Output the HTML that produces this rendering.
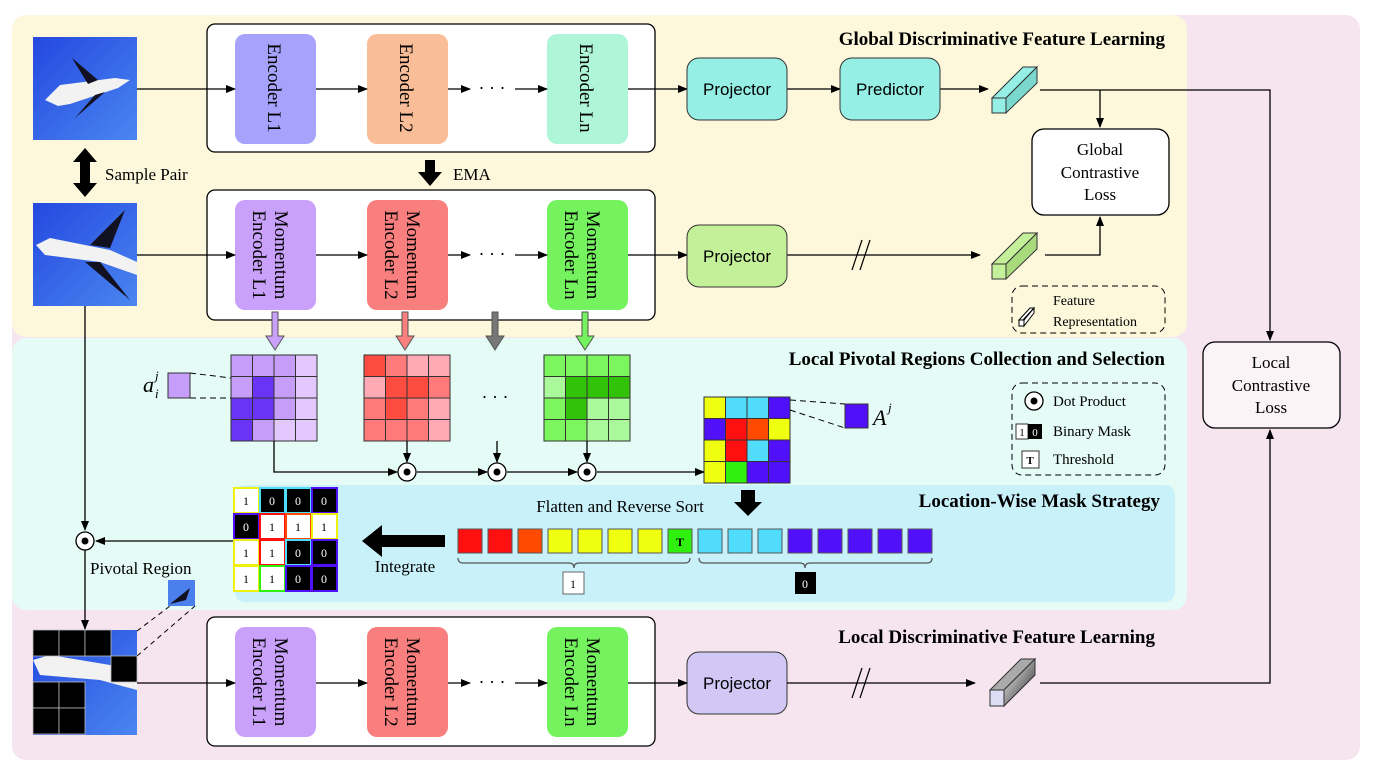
<!DOCTYPE html>
<html><head><meta charset="utf-8"><style>
html,body{margin:0;padding:0;background:#fff}
svg{display:block;font-family:"Liberation Serif",serif}
</style></head><body>
<svg width="1379" height="771" viewBox="0 0 1379 771" xmlns="http://www.w3.org/2000/svg">
<defs>
<marker id="ah" markerWidth="10" markerHeight="8" refX="9" refY="4" orient="auto" markerUnits="userSpaceOnUse"><path d="M0,0 L10,4 L0,8 Z" fill="#000"/></marker>
<linearGradient id="sky" x1="0" y1="0" x2="1" y2="1"><stop offset="0" stop-color="#2448e0"/><stop offset="1" stop-color="#4a86f0"/></linearGradient>
<linearGradient id="gbar" x1="0" y1="0" x2="1" y2="1"><stop offset="0" stop-color="#fff"/><stop offset="1" stop-color="#222"/></linearGradient>
</defs>
<!-- panels -->
<rect x="12" y="15" width="1348" height="745" rx="14" fill="#f6e5ee"/>
<rect x="12" y="15" width="1175" height="322" rx="14" fill="#fdf7dc"/>
<rect x="12" y="338" width="1175" height="272" rx="14" fill="#e4fbf6"/>
<rect x="235" y="485" width="940" height="117" rx="10" fill="#c9f1fa"/>

<!-- titles -->
<g font-weight="bold" font-size="19" text-anchor="end">
<text x="1165" y="45">Global Discriminative Feature Learning</text>
<text x="1165" y="365">Local Pivotal Regions Collection and Selection</text>
<text x="1160" y="507">Location-Wise Mask Strategy</text>
<text x="1155" y="643">Local Discriminative Feature Learning</text>
</g>

<!-- images -->
<g>
<rect x="33" y="37" width="104" height="103" fill="url(#sky)"/>
<path d="M45,100 L60,85 L115,78 L130,80 L118,88 L70,104 L58,106 Z" fill="#f2f2f2"/>
<path d="M72,58 L98,80 L88,84 Z M75,118 L95,95 L105,92 Z" fill="#112"/>
<rect x="33" y="203" width="104" height="103" fill="url(#sky)"/>
<path d="M36,245 L50,238 L110,250 L137,262 L137,275 L100,262 L45,255 Z" fill="#f2f2f2"/>
<path d="M90,245 L125,210 L110,248 Z M85,262 L130,300 L100,262 Z" fill="#112"/>
</g>
<!-- sample pair -->
<path d="M85,148 L97,162 L90,162 L90,183 L97,183 L85,197 L73,183 L80,183 L80,162 L73,162 Z" fill="#000"/>
<text x="105" y="180" font-size="17">Sample Pair</text>

<!-- top encoder box -->
<rect x="207" y="24" width="448" height="128" rx="8" fill="#fff" stroke="#000" stroke-width="1.3"/>
<rect x="235" y="34" width="81" height="110" rx="10" fill="#a7a3fc"/>
<rect x="367" y="34" width="81" height="110" rx="10" fill="#f9bd97"/>
<rect x="547" y="34" width="81" height="110" rx="10" fill="#aff5d8"/>
<g font-size="19">
<text transform="translate(268,88) rotate(90)" text-anchor="middle">Encoder  L1</text>
<text transform="translate(400,88) rotate(90)" text-anchor="middle">Encoder  L2</text>
<text transform="translate(580,88) rotate(90)" text-anchor="middle">Encoder  Ln</text>
</g>
<g stroke="#000" stroke-width="1.3" fill="none" marker-end="url(#ah)">
<line x1="137" y1="89" x2="235" y2="89"/>
<line x1="316" y1="89" x2="367" y2="89"/>
<line x1="448" y1="89" x2="470" y2="89"/>
<line x1="515" y1="89" x2="547" y2="89"/>
<line x1="628" y1="89" x2="687" y2="89"/>
<line x1="787" y1="89" x2="840" y2="89"/>
<line x1="940" y1="89" x2="988" y2="89"/>
</g>
<text x="492" y="94" font-size="18" text-anchor="middle">· · ·</text>

<!-- EMA -->
<path d="M425,160 L435,160 L435,172 L442,172 L430,186 L418,172 L425,172 Z" fill="#000"/>
<text x="453" y="180" font-size="17">EMA</text>

<!-- momentum box -->
<rect x="207" y="190" width="448" height="130" rx="8" fill="#fff" stroke="#000" stroke-width="1.3"/>
<rect x="235" y="200" width="81" height="110" rx="10" fill="#c9a0fa"/>
<rect x="367" y="200" width="81" height="110" rx="10" fill="#f97f7e"/>
<rect x="547" y="200" width="81" height="110" rx="10" fill="#74f35e"/>
<g font-size="19" text-anchor="middle">
<text transform="translate(275,255) rotate(90)" y="0">Momentum</text>
<text transform="translate(275,255) rotate(90)" y="22">Encoder  L1</text>
<text transform="translate(407,255) rotate(90)" y="0">Momentum</text>
<text transform="translate(407,255) rotate(90)" y="22">Encoder  L2</text>
<text transform="translate(587,255) rotate(90)" y="0">Momentum</text>
<text transform="translate(587,255) rotate(90)" y="22">Encoder  Ln</text>
</g>
<g stroke="#000" stroke-width="1.3" fill="none" marker-end="url(#ah)">
<line x1="137" y1="255" x2="235" y2="255"/>
<line x1="316" y1="255" x2="367" y2="255"/>
<line x1="448" y1="255" x2="470" y2="255"/>
<line x1="515" y1="255" x2="547" y2="255"/>
<line x1="628" y1="255" x2="687" y2="255"/>
<line x1="787" y1="255" x2="980" y2="255"/>
</g>
<text x="492" y="260" font-size="18" text-anchor="middle">· · ·</text>
<g stroke="#000" stroke-width="1.2"><line x1="852" y1="270" x2="862" y2="240"/><line x1="860" y1="270" x2="870" y2="240"/></g>

<!-- projectors -->
<rect x="687" y="58" width="100" height="62" rx="12" fill="#95efe4" stroke="#333"/>
<rect x="840" y="58" width="100" height="62" rx="12" fill="#95efe4" stroke="#333"/>
<rect x="687" y="225" width="100" height="62" rx="12" fill="#c5f09a" stroke="#333"/>
<rect x="687" y="652" width="100" height="62" rx="12" fill="#d2c8f6" stroke="#333"/>
<g font-size="17" font-family="Liberation Sans,sans-serif" text-anchor="middle">
<text x="737" y="95">Projector</text><text x="890" y="95">Predictor</text>
<text x="737" y="262">Projector</text><text x="737" y="689">Projector</text>
</g>

<!-- feature bars -->
<g stroke="#333" stroke-width="1">
<polygon points="992,98 1023,67 1037,67 1006,98" fill="#95efe4"/><polygon points="1006,98 1037,67 1037,83 1006,113" fill="#7ad8cf"/><rect x="992" y="98" width="14" height="15" fill="#95efe4"/>
<polygon points="992,264 1023,233 1037,233 1006,264" fill="#c5f09a"/><polygon points="1006,264 1037,233 1037,249 1006,279" fill="#a9da7d"/><rect x="992" y="264" width="14" height="15" fill="#c5f09a"/>
<polygon points="990,690 1021,659 1035,659 1004,690" fill="#aaa"/><polygon points="1004,690 1035,659 1035,675 1004,706" fill="url(#gbar)"/><rect x="990" y="690" width="14" height="16" fill="#ddddf5"/>
</g>

<!-- global loss -->
<rect x="1032" y="129" width="137" height="86" rx="12" fill="#fff" stroke="#000" stroke-width="1.3"/>
<g font-size="17" text-anchor="middle"><text x="1100" y="155">Global</text><text x="1100" y="178">Contrastive</text><text x="1100" y="200">Loss</text></g>
<rect x="1203" y="342" width="137" height="86" rx="12" fill="#fcf3f7" stroke="#000" stroke-width="1.3"/>
<g font-size="17" text-anchor="middle"><text x="1271" y="368">Local</text><text x="1271" y="391">Contrastive</text><text x="1271" y="413">Loss</text></g>
<g stroke="#000" stroke-width="1.3" fill="none">
<polyline points="1040,90 1270,90 1270,340" marker-end="url(#ah)"/>
<line x1="1100" y1="90" x2="1100" y2="127" marker-end="url(#ah)"/>
<polyline points="1045,255 1100,255 1100,217" marker-end="url(#ah)"/>
<polyline points="1040,683 1270,683 1270,430" marker-end="url(#ah)"/>
<line x1="787" y1="683" x2="975" y2="683" marker-end="url(#ah)"/>
</g>
<g stroke="#000" stroke-width="1.2"><line x1="852" y1="698" x2="862" y2="668"/><line x1="860" y1="698" x2="870" y2="668"/></g>

<!-- feature rep legend -->
<rect x="1012" y="286" width="153" height="47" rx="10" fill="none" stroke="#000" stroke-dasharray="6,4"/>
<polygon points="1019,320 1030,308 1034,308 1023,320" fill="#fff" stroke="#000"/><rect x="1019" y="320" width="5" height="6" fill="#fff" stroke="#000"/><polygon points="1024,320 1034,308 1034,313 1024,326" fill="#fff" stroke="#000"/>
<text x="1053" y="305" font-size="14">Feature</text><text x="1053" y="326" font-size="14">Representation</text>

<!-- hollow arrows down -->
<g stroke="#555" stroke-width="1">
<path d="M272,312 L278,312 L278,336 L284,336 L275,350 L266,336 L272,336 Z" fill="#c9a0fa"/>
<path d="M402,312 L408,312 L408,336 L414,336 L405,350 L396,336 L402,336 Z" fill="#f97f7e"/>
<path d="M492,312 L498,312 L498,336 L504,336 L495,350 L486,336 L492,336 Z" fill="#777"/>
<path d="M582,312 L588,312 L588,336 L594,336 L585,350 L576,336 L582,336 Z" fill="#74f35e"/>
</g>

<!-- grids -->
<g stroke="#333" stroke-width="1">
<!-- purple -->
<g transform="translate(231,355)">
<rect x="0" y="0" width="21.5" height="21.5" fill="#c69ef9"/><rect x="21.5" y="0" width="21.5" height="21.5" fill="#c69ef9"/><rect x="43" y="0" width="21.5" height="21.5" fill="#c69ef9"/><rect x="64.5" y="0" width="21.5" height="21.5" fill="#e2c8fc"/>
<rect x="0" y="21.5" width="21.5" height="21.5" fill="#c69ef9"/><rect x="21.5" y="21.5" width="21.5" height="21.5" fill="#6a33f5"/><rect x="43" y="21.5" width="21.5" height="21.5" fill="#c69ef9"/><rect x="64.5" y="21.5" width="21.5" height="21.5" fill="#e2c8fc"/>
<rect x="0" y="43" width="21.5" height="21.5" fill="#6a33f5"/><rect x="21.5" y="43" width="21.5" height="21.5" fill="#6a33f5"/><rect x="43" y="43" width="21.5" height="21.5" fill="#c69ef9"/><rect x="64.5" y="43" width="21.5" height="21.5" fill="#e2c8fc"/>
<rect x="0" y="64.5" width="21.5" height="21.5" fill="#6a33f5"/><rect x="21.5" y="64.5" width="21.5" height="21.5" fill="#c69ef9"/><rect x="43" y="64.5" width="21.5" height="21.5" fill="#e2c8fc"/><rect x="64.5" y="64.5" width="21.5" height="21.5" fill="#e2c8fc"/>
</g>
<!-- red -->
<g transform="translate(364,355)">
<rect x="0" y="0" width="21.5" height="21.5" fill="#ff4c40"/><rect x="21.5" y="0" width="21.5" height="21.5" fill="#ff7a7a"/><rect x="43" y="0" width="21.5" height="21.5" fill="#ffaab5"/><rect x="64.5" y="0" width="21.5" height="21.5" fill="#ffaab5"/>
<rect x="0" y="21.5" width="21.5" height="21.5" fill="#ffaab5"/><rect x="21.5" y="21.5" width="21.5" height="21.5" fill="#ff4c40"/><rect x="43" y="21.5" width="21.5" height="21.5" fill="#ff4c40"/><rect x="64.5" y="21.5" width="21.5" height="21.5" fill="#ff7a7a"/>
<rect x="0" y="43" width="21.5" height="21.5" fill="#ff7a7a"/><rect x="21.5" y="43" width="21.5" height="21.5" fill="#ff4c40"/><rect x="43" y="43" width="21.5" height="21.5" fill="#ff7a7a"/><rect x="64.5" y="43" width="21.5" height="21.5" fill="#ffaab5"/>
<rect x="0" y="64.5" width="21.5" height="21.5" fill="#ff7a7a"/><rect x="21.5" y="64.5" width="21.5" height="21.5" fill="#ff7a7a"/><rect x="43" y="64.5" width="21.5" height="21.5" fill="#ff7a7a"/><rect x="64.5" y="64.5" width="21.5" height="21.5" fill="#ffaab5"/>
</g>
<!-- green -->
<g transform="translate(544,355)">
<rect x="0" y="0" width="21.5" height="21.5" fill="#7cf55f"/><rect x="21.5" y="0" width="21.5" height="21.5" fill="#7cf55f"/><rect x="43" y="0" width="21.5" height="21.5" fill="#7cf55f"/><rect x="64.5" y="0" width="21.5" height="21.5" fill="#7cf55f"/>
<rect x="0" y="21.5" width="21.5" height="21.5" fill="#aaf99a"/><rect x="21.5" y="21.5" width="21.5" height="21.5" fill="#33c20a"/><rect x="43" y="21.5" width="21.5" height="21.5" fill="#33c20a"/><rect x="64.5" y="21.5" width="21.5" height="21.5" fill="#33c20a"/>
<rect x="0" y="43" width="21.5" height="21.5" fill="#7cf55f"/><rect x="21.5" y="43" width="21.5" height="21.5" fill="#33c20a"/><rect x="43" y="43" width="21.5" height="21.5" fill="#aaf99a"/><rect x="64.5" y="43" width="21.5" height="21.5" fill="#aaf99a"/>
<rect x="0" y="64.5" width="21.5" height="21.5" fill="#7cf55f"/><rect x="21.5" y="64.5" width="21.5" height="21.5" fill="#7cf55f"/><rect x="43" y="64.5" width="21.5" height="21.5" fill="#aaf99a"/><rect x="64.5" y="64.5" width="21.5" height="21.5" fill="#aaf99a"/>
</g>
<!-- combined -->
<g transform="translate(704,397)">
<rect x="0" y="0" width="21.5" height="21.5" fill="#f0ff10"/><rect x="21.5" y="0" width="21.5" height="21.5" fill="#50dcfa"/><rect x="43" y="0" width="21.5" height="21.5" fill="#50dcfa"/><rect x="64.5" y="0" width="21.5" height="21.5" fill="#5010fa"/>
<rect x="0" y="21.5" width="21.5" height="21.5" fill="#5010fa"/><rect x="21.5" y="21.5" width="21.5" height="21.5" fill="#ff1010"/><rect x="43" y="21.5" width="21.5" height="21.5" fill="#ff4a00"/><rect x="64.5" y="21.5" width="21.5" height="21.5" fill="#f0ff10"/>
<rect x="0" y="43" width="21.5" height="21.5" fill="#f0ff10"/><rect x="21.5" y="43" width="21.5" height="21.5" fill="#ff1010"/><rect x="43" y="43" width="21.5" height="21.5" fill="#50dcfa"/><rect x="64.5" y="43" width="21.5" height="21.5" fill="#5010fa"/>
<rect x="0" y="64.5" width="21.5" height="21.5" fill="#f0ff10"/><rect x="21.5" y="64.5" width="21.5" height="21.5" fill="#30f010"/><rect x="43" y="64.5" width="21.5" height="21.5" fill="#5010fa"/><rect x="64.5" y="64.5" width="21.5" height="21.5" fill="#5010fa"/>
</g>
<rect x="168" y="373" width="22" height="25" fill="#c69ef9"/>
<rect x="845" y="404" width="23" height="24" fill="#5010fa"/>
</g>
<text x="495" y="403" font-size="18" text-anchor="middle">· · ·</text>
<g stroke="#000" stroke-dasharray="6,4" fill="none">
<line x1="190" y1="373" x2="231" y2="378"/><line x1="190" y1="398" x2="231" y2="398"/>
<line x1="790" y1="400" x2="845" y2="404"/><line x1="790" y1="410" x2="845" y2="428"/>
</g>
<text x="143" y="392" font-size="22" font-style="italic">a</text>
<text x="155" y="380" font-size="13" font-style="italic">j</text>
<text x="155" y="398" font-size="13" font-style="italic">i</text>
<text x="873" y="425" font-size="22" font-style="italic">A</text>
<text x="888" y="412" font-size="13" font-style="italic">j</text>

<!-- dot product chain -->
<g stroke="#000" stroke-width="1.3" fill="none">
<polyline points="274,441 274,472 397,472" marker-end="url(#ah)"/>
<line x1="417" y1="472" x2="487" y2="472" marker-end="url(#ah)"/>
<line x1="507" y1="472" x2="577" y2="472" marker-end="url(#ah)"/>
<line x1="597" y1="472" x2="704" y2="472" marker-end="url(#ah)"/>
<line x1="407" y1="441" x2="407" y2="462" marker-end="url(#ah)"/>
<line x1="497" y1="441" x2="497" y2="462" marker-end="url(#ah)"/>
<line x1="587" y1="441" x2="587" y2="462" marker-end="url(#ah)"/>
</g>
<g stroke="#000" stroke-width="1.3" fill="#fff">
<circle cx="407" cy="472" r="9"/><circle cx="497" cy="472" r="9"/><circle cx="587" cy="472" r="9"/><circle cx="85" cy="541" r="9"/>
<circle cx="1034" cy="401" r="9"/>
</g>
<g fill="#000"><circle cx="407" cy="472" r="3.5"/><circle cx="497" cy="472" r="3.5"/><circle cx="587" cy="472" r="3.5"/><circle cx="85" cy="541" r="3.5"/><circle cx="1034" cy="401" r="3.5"/></g>

<!-- legend -->
<rect x="1012" y="383" width="153" height="92" rx="10" fill="none" stroke="#000" stroke-dasharray="6,4"/>
<g font-size="15"><text x="1053" y="406">Dot Product</text><text x="1053" y="436">Binary Mask</text><text x="1053" y="464">Threshold</text></g>
<rect x="1016" y="424" width="12" height="15" fill="#fff" stroke="#333"/><rect x="1028" y="424" width="14" height="15" fill="#000"/>
<text x="1022" y="436" font-size="11" text-anchor="middle">1</text><text x="1035" y="436" font-size="11" fill="#fff" text-anchor="middle">0</text>
<rect x="1022" y="451" width="17" height="17" fill="#fff" stroke="#333"/><text x="1030" y="464" font-size="11" font-weight="bold" text-anchor="middle">T</text>

<!-- flatten -->
<path d="M741,490 L755,490 L755,502 L762,502 L748,516 L734,502 L741,502 Z" fill="#000"/>
<text x="620" y="512" font-size="17" text-anchor="middle">Flatten and Reverse Sort</text>
<g stroke="#555" stroke-width="1">
<rect x="458" y="529" width="24" height="24" fill="#ff1010"/><rect x="488" y="529" width="24" height="24" fill="#ff1010"/><rect x="518" y="529" width="24" height="24" fill="#ff4a00"/>
<rect x="548" y="529" width="24" height="24" fill="#f0ff10"/><rect x="578" y="529" width="24" height="24" fill="#f0ff10"/><rect x="608" y="529" width="24" height="24" fill="#f0ff10"/><rect x="638" y="529" width="24" height="24" fill="#f0ff10"/>
<rect x="668" y="529" width="24" height="24" fill="#30f010"/>
<rect x="698" y="529" width="24" height="24" fill="#50dcfa"/><rect x="728" y="529" width="24" height="24" fill="#50dcfa"/><rect x="758" y="529" width="24" height="24" fill="#50dcfa"/>
<rect x="788" y="529" width="24" height="24" fill="#5010fa"/><rect x="818" y="529" width="24" height="24" fill="#5010fa"/><rect x="848" y="529" width="24" height="24" fill="#5010fa"/><rect x="878" y="529" width="24" height="24" fill="#5010fa"/><rect x="908" y="529" width="24" height="24" fill="#5010fa"/>
</g>
<text x="680" y="546" font-size="12" font-weight="bold" text-anchor="middle">T</text>
<g stroke="#555" fill="none" stroke-width="1.2">
<path d="M458,558 Q458,563 463,563 L569,563 Q574,563 574,568 Q574,563 579,563 L685,563 Q690,563 690,558"/>
<path d="M699,558 Q699,563 704,563 L800,563 Q805,563 805,568 Q805,563 810,563 L927,563 Q932,563 932,558"/>
</g>
<rect x="563" y="572" width="21" height="22" fill="#fff" stroke="#666"/><text x="573" y="588" font-size="12" text-anchor="middle">1</text>
<rect x="795" y="572" width="21" height="22" fill="#000"/><text x="805" y="588" font-size="12" fill="#fff" text-anchor="middle">0</text>

<!-- integrate -->
<path d="M445,535 L445,547 L382,547 L382,557 L362,541 L382,525 L382,535 Z" fill="#000"/>
<text x="405" y="572" font-size="17" text-anchor="middle">Integrate</text>

<!-- mask grid -->
<g font-size="12" text-anchor="middle" stroke-width="2">
<rect x="234" y="488" width="25" height="25" fill="#fff" stroke="#f0f010"/><rect x="260" y="488" width="25" height="25" fill="#000" stroke="#50dcfa"/><rect x="286" y="488" width="25" height="25" fill="#000" stroke="#50dcfa"/><rect x="312" y="488" width="25" height="25" fill="#000" stroke="#5010fa"/>
<rect x="234" y="514" width="25" height="25" fill="#000" stroke="#5010fa"/><rect x="260" y="514" width="25" height="25" fill="#fff" stroke="#ff1010"/><rect x="286" y="514" width="25" height="25" fill="#fff" stroke="#ff4a00"/><rect x="312" y="514" width="25" height="25" fill="#fff" stroke="#f0f010"/>
<rect x="234" y="540" width="25" height="25" fill="#fff" stroke="#f0f010"/><rect x="260" y="540" width="25" height="25" fill="#fff" stroke="#ff1010"/><rect x="286" y="540" width="25" height="25" fill="#000" stroke="#50dcfa"/><rect x="312" y="540" width="25" height="25" fill="#000" stroke="#5010fa"/>
<rect x="234" y="566" width="25" height="25" fill="#fff" stroke="#f0f010"/><rect x="260" y="566" width="25" height="25" fill="#fff" stroke="#30f010"/><rect x="286" y="566" width="25" height="25" fill="#000" stroke="#5010fa"/><rect x="312" y="566" width="25" height="25" fill="#000" stroke="#5010fa"/>
</g>
<g font-size="12" text-anchor="middle">
<text x="246" y="505">1</text><text x="272" y="505" fill="#fff">0</text><text x="298" y="505" fill="#fff">0</text><text x="324" y="505" fill="#fff">0</text>
<text x="246" y="531" fill="#fff">0</text><text x="272" y="531">1</text><text x="298" y="531">1</text><text x="324" y="531">1</text>
<text x="246" y="557">1</text><text x="272" y="557">1</text><text x="298" y="557" fill="#fff">0</text><text x="324" y="557" fill="#fff">0</text>
<text x="246" y="583">1</text><text x="272" y="583">1</text><text x="298" y="583" fill="#fff">0</text><text x="324" y="583" fill="#fff">0</text>
</g>

<!-- left flow -->
<g stroke="#000" stroke-width="1.3" fill="none">
<line x1="85" y1="306" x2="85" y2="530" marker-end="url(#ah)"/>
<line x1="233" y1="541" x2="96" y2="541" marker-end="url(#ah)"/>
<line x1="85" y1="550" x2="85" y2="629" marker-end="url(#ah)"/>
</g>
<text x="90" y="574" font-size="17">Pivotal Region</text>
<rect x="168" y="580" width="27" height="26" fill="#4a7fec"/>
<path d="M170,604 L190,588 L186,600 Z" fill="#112"/>
<g stroke="#000" stroke-dasharray="5,4"><line x1="137" y1="631" x2="170" y2="606"/><line x1="137" y1="656" x2="195" y2="606"/></g>

<!-- masked image -->
<rect x="33" y="630" width="104" height="105" fill="url(#sky)"/>
<path d="M33,660 L50,655 L110,665 L137,675 L137,690 L100,680 L40,675 Z" fill="#f2f2f2"/>
<g fill="#000" stroke="#bbb" stroke-width="0.8">
<rect x="33" y="630" width="26" height="26"/><rect x="59" y="630" width="26" height="26"/><rect x="85" y="630" width="26" height="26"/>
<rect x="111" y="656" width="26" height="26"/>
<rect x="33" y="682" width="26" height="26"/><rect x="59" y="682" width="26" height="26"/>
<rect x="33" y="708" width="26" height="26"/><rect x="59" y="708" width="26" height="26"/>
</g>

<!-- bottom encoder box -->
<rect x="207" y="617" width="448" height="129" rx="8" fill="#fff" stroke="#000" stroke-width="1.3"/>
<rect x="235" y="627" width="81" height="110" rx="10" fill="#c9a0fa"/>
<rect x="367" y="627" width="81" height="110" rx="10" fill="#f97f7e"/>
<rect x="547" y="627" width="81" height="110" rx="10" fill="#74f35e"/>
<g font-size="19" text-anchor="middle">
<text transform="translate(275,682) rotate(90)" y="0">Momentum</text>
<text transform="translate(275,682) rotate(90)" y="22">Encoder  L1</text>
<text transform="translate(407,682) rotate(90)" y="0">Momentum</text>
<text transform="translate(407,682) rotate(90)" y="22">Encoder  L2</text>
<text transform="translate(587,682) rotate(90)" y="0">Momentum</text>
<text transform="translate(587,682) rotate(90)" y="22">Encoder  Ln</text>
</g>
<g stroke="#000" stroke-width="1.3" fill="none" marker-end="url(#ah)">
<line x1="137" y1="683" x2="235" y2="683"/>
<line x1="316" y1="683" x2="367" y2="683"/>
<line x1="448" y1="683" x2="470" y2="683"/>
<line x1="515" y1="683" x2="547" y2="683"/>
<line x1="628" y1="683" x2="687" y2="683"/>
</g>
<text x="492" y="688" font-size="18" text-anchor="middle">· · ·</text>
</svg>
</body></html>
